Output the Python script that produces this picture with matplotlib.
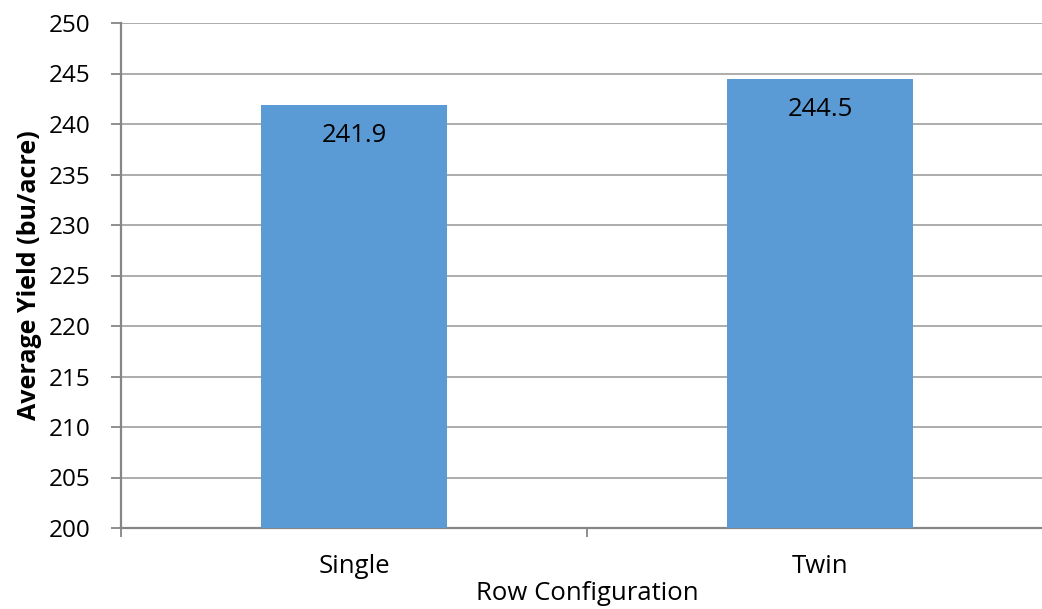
import matplotlib.pyplot as plt
import numpy as np

categories = ['Single', 'Twin']
yields = [241.9, 244.5]
y_ticks = list(range(200, 251, 5))

plt.rcParams['font.family'] = ['Open Sans', 'DejaVu Sans']

fig = plt.figure(figsize=(10.42, 6.09), dpi=100)
ax = fig.add_axes([121 / 1042, 81 / 609, 932 / 1042, 505 / 609])

x = np.arange(len(categories))
bars = ax.bar(x, [v - 200 for v in yields], bottom=200, width=0.4, color='#5B9BD5', zorder=3)

for b, v in zip(bars, yields):
    ax.annotate(f"{v:.1f}", (b.get_x() + b.get_width() / 2, v), xytext=(0, -22),
                textcoords='offset points', ha='center', va='center', fontsize=18.5, color='black', zorder=4)

ax.set_ylim(200, 250)
ax.set_xlim(-0.5, len(categories) - 0.5)
ax.set_yticks(y_ticks)
ax.yaxis.grid(True, color='#A6A6A6', linewidth=1.3, zorder=0)

# category labels centered, tick marks at the boundaries
ax.set_xticks(x)
ax.set_xticklabels(categories, fontsize=18.5)
ax.tick_params(axis='x', length=0, pad=19)
ax.set_xticks(np.arange(-0.5, len(categories)), minor=True)
ax.tick_params(axis='x', which='minor', length=6.5, color='#868686', width=1.3)
ax.tick_params(axis='y', labelsize=17.5, length=7, color='#868686', width=1.3, pad=15)

for s in ['top', 'right']:
    ax.spines[s].set_visible(False)
for s in ['left', 'bottom']:
    ax.spines[s].set_color('#868686')
    ax.spines[s].set_linewidth(1.6)

ax.set_ylabel('Average Yield (bu/acre)', fontsize=18, fontweight='bold', labelpad=5)
ax.set_xlabel('Row Configuration', fontsize=18.5, labelpad=1)

fig.savefig('out.png', dpi=100)
